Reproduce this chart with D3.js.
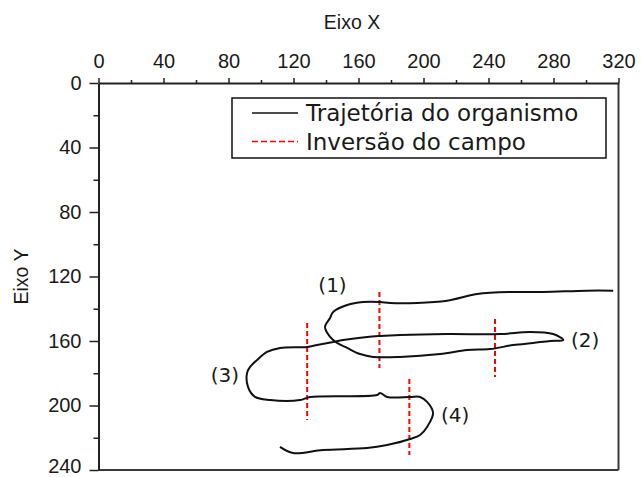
<!DOCTYPE html>
<html>
<head>
<meta charset="utf-8">
<script src="https://cdn.jsdelivr.net/npm/d3@7"></script>
<style>
  html, body { margin: 0; padding: 0; background: #ffffff; }
  svg { display: block; }
</style>
</head>
<body>
<svg id="chart" width="641" height="477"></svg>
<script>
// ---- data ----
const xTicks = [0, 40, 80, 120, 160, 200, 240, 280, 320];
const xMinorTicks = [20, 60, 100, 140, 180, 220, 260, 300];
const yTicks = [0, 40, 80, 120, 160, 200, 240];
const yMinorTicks = [20, 60, 100, 140, 180, 220];

// trajectory of the organism (Eixo X, Eixo Y)
const trajX = [316.7, 300.5, 273.6, 255.2, 233.0, 214.5, 196.1, 179.4, 173.3, 162.8,
  153.0, 144.4, 142.5, 139.4, 142.5, 146.8, 153.0, 161.0, 169.0, 185.6,
  210.2, 226.9, 241.0, 255.2, 267.5, 278.0, 286.0, 279.8, 265.6, 247.2,
  214.5, 185.6, 173.3, 165.3, 150.5, 144.4, 134.5, 128.4, 111.7, 103.7,
  97.6, 93.3, 91.4, 92.0, 96.3, 105.6, 124.0, 130.2, 171.4, 173.3,
  177.6, 191.8, 197.9, 202.2, 205.9, 202.2, 197.9, 191.8, 177.6, 165.3,
  138.2, 119.7, 111.7];
const trajY = [128.8, 128.8, 129.6, 129.6, 130.9, 135.0, 136.4, 136.4, 135.8, 135.8,
  137.7, 142.0, 145.7, 151.3, 157.5, 161.2, 164.3, 168.1, 169.9, 169.9,
  168.1, 165.6, 165.0, 162.5, 161.2, 160.0, 159.4, 155.7, 154.4, 155.7,
  155.7, 156.3, 156.9, 157.5, 159.4, 160.6, 162.5, 163.7, 164.3, 166.8,
  171.8, 176.1, 179.9, 188.5, 194.7, 196.6, 196.6, 194.7, 193.5, 192.2,
  194.7, 194.7, 194.7, 197.8, 204.7, 213.3, 218.3, 220.8, 224.5, 226.4,
  227.6, 229.5, 225.7];

// field inversions (vertical dashed segments)
const fieldX  = [128.4, 172.9, 244.0, 191.3];
const fieldY0 = [148.8, 129.6, 146.4, 183.6];
const fieldY1 = [209.0, 176.8, 182.3, 230.7];

// numbered annotations
const noteText = ["(1)", "(2)", "(3)", "(4)"];
const noteX = [144.0, 299.5, 77.8, 219.5];
const noteY = [125.0, 159.4, 181.1, 205.9];

const legendLabels = ["Trajetória do organismo", "Inversão do campo"];

// ---- drawing ----
const svg = d3.select("#chart");
svg.append("rect").attr("width", 641).attr("height", 477).attr("fill", "#ffffff");

const x = d3.scaleLinear().domain([0, 320]).range([98.5, 618.5]);
const y = d3.scaleLinear().domain([0, 240]).range([83, 470]);

const axisColor = "#222";
const tickFont = "'Liberation Sans', Arial, sans-serif";
const textFont = "'DejaVu Sans', Verdana, sans-serif";

// frame (right & bottom)
svg.append("line").attr("x1", x(320)).attr("x2", x(320)).attr("y1", y(0)).attr("y2", y(240))
  .attr("stroke", "#3a3a3a").attr("stroke-width", 2);
svg.append("line").attr("x1", x(0)).attr("x2", x(320)).attr("y1", y(240)).attr("y2", y(240))
  .attr("stroke", "#3a3a3a").attr("stroke-width", 2);

// top X axis
const gx = svg.append("g").attr("transform", `translate(0,${y(0)})`)
  .call(d3.axisTop(x).tickValues(xTicks).tickSize(5).tickSizeOuter(0).tickPadding(10).tickFormat(d3.format("d")));
const gxm = svg.append("g").attr("transform", `translate(0,${y(0)})`)
  .call(d3.axisTop(x).tickValues(xMinorTicks).tickSize(3).tickSizeOuter(0).tickFormat(""));
gxm.select(".domain").remove();

// left Y axis
const gy = svg.append("g").attr("transform", `translate(${x(0)},0)`)
  .call(d3.axisLeft(y).tickValues(yTicks).tickSize(9).tickSizeOuter(0).tickPadding(8).tickFormat(d3.format("d")));
const gym = svg.append("g").attr("transform", `translate(${x(0)},0)`)
  .call(d3.axisLeft(y).tickValues(yMinorTicks).tickSize(5).tickSizeOuter(0).tickFormat(""));
gym.select(".domain").remove();

[gx, gxm, gy, gym].forEach(g => {
  g.selectAll("path.domain").attr("stroke", axisColor).attr("stroke-width", 2);
  g.selectAll(".tick line").attr("stroke", axisColor).attr("stroke-width", 1.5);
  g.selectAll(".tick text").attr("fill", "#1a1a1a").style("font-family", tickFont).style("font-size", "20px");
});
// bottom-most label sits slightly above its tick, as in the reference
gy.selectAll(".tick text").filter(d => d === 240).attr("dy", "0.1em");

// axis titles
svg.append("text").attr("x", 352).attr("y", 29).attr("text-anchor", "middle")
  .style("font-family", tickFont).style("font-size", "19.5px").attr("fill", "#1a1a1a").text("Eixo X");
svg.append("text").attr("transform", `translate(28,${(y(0) + y(240)) / 2}) rotate(-90)`)
  .attr("text-anchor", "middle")
  .style("font-family", tickFont).style("font-size", "19.5px").attr("fill", "#1a1a1a").text("Eixo Y");

// field inversion lines
svg.append("g").selectAll("line").data(fieldX).join("line")
  .attr("x1", d => x(d)).attr("x2", d => x(d))
  .attr("y1", (d, i) => y(fieldY0[i])).attr("y2", (d, i) => y(fieldY1[i]))
  .attr("stroke", "#ff0000").attr("stroke-width", 2).attr("stroke-dasharray", "5,3");

// trajectory
const pts = trajX.map((d, i) => [d, trajY[i]]);
const line = d3.line().x(d => x(d[0])).y(d => y(d[1])).curve(d3.curveCatmullRom.alpha(0.5));
svg.append("path").datum(pts).attr("d", line)
  .attr("fill", "none").attr("stroke", "#111").attr("stroke-width", 2).attr("stroke-linejoin", "round");

// annotations
svg.append("g").selectAll("text").data(noteText).join("text")
  .attr("x", (d, i) => x(noteX[i])).attr("y", (d, i) => y(noteY[i]))
  .attr("dy", "0.36em").attr("text-anchor", "middle")
  .style("font-family", textFont).style("font-size", "20px").attr("fill", "#1a1a1a")
  .text(d => d);

// legend
const lg = svg.append("g");
lg.append("rect").attr("x", 232).attr("y", 98).attr("width", 374).attr("height", 60)
  .attr("fill", "#ffffff").attr("stroke", "#111").attr("stroke-width", 1.5);
lg.append("line").attr("x1", 252).attr("x2", 298).attr("y1", 113).attr("y2", 113)
  .attr("stroke", "#111").attr("stroke-width", 1.5);
lg.append("line").attr("x1", 252).attr("x2", 298).attr("y1", 141.5).attr("y2", 141.5)
  .attr("stroke", "#ff0000").attr("stroke-width", 1.5).attr("stroke-dasharray", "6,3");
lg.selectAll("text.lab").data(legendLabels).join("text").attr("class", "lab")
  .attr("x", 306).attr("y", (d, i) => 121 + i * 28.5)
  .style("font-family", textFont).style("font-size", "23px").attr("fill", "#1a1a1a")
  .text(d => d);
</script>
</body>
</html>
